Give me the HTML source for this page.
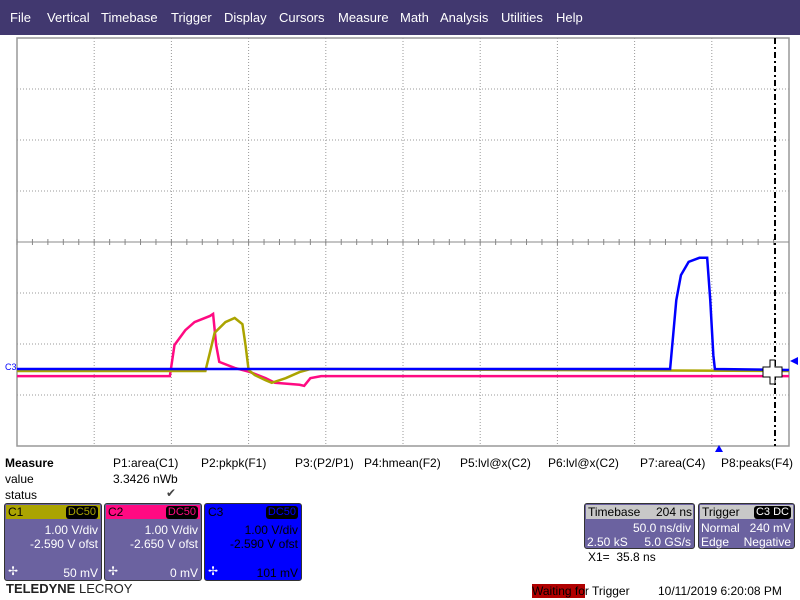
<!DOCTYPE html>
<html><head><meta charset="utf-8"><style>
body{margin:0;width:800px;height:600px;background:#fff;font-family:"Liberation Sans",sans-serif;position:relative;overflow:hidden}
.menu{position:absolute;left:0;top:0;width:800px;height:35px;background:#41386f;color:#fff;font-size:13px}
.menu span{position:absolute;top:10px}
.t{position:absolute;font-size:12px;color:#000;white-space:nowrap}
.box{position:absolute;background:#6b62a0;border:1px solid #333;border-radius:3px;color:#fff;font-size:12px}
.hd{position:absolute;left:1px;right:1px;top:1px;height:14px}
.r{position:absolute;right:3px}
.tag{position:absolute;right:2px;top:1px;background:#000;border-radius:3px;padding:0 2px;font-size:11px;line-height:13px}
</style></head><body>
<div class="menu">
<span style="left:10px">File</span>
<span style="left:47px">Vertical</span>
<span style="left:101px">Timebase</span>
<span style="left:171px">Trigger</span>
<span style="left:224px">Display</span>
<span style="left:279px">Cursors</span>
<span style="left:338px">Measure</span>
<span style="left:400px">Math</span>
<span style="left:440px">Analysis</span>
<span style="left:501px">Utilities</span>
<span style="left:556px">Help</span>
</div>
<svg id="plot" width="800" height="460" style="position:absolute;left:0;top:0"></svg>
<div class="t" style="left:5px;top:456px;font-weight:bold">Measure</div>
<div class="t" style="left:5px;top:472px">value</div>
<div class="t" style="left:5px;top:488px">status</div>
<div class="t" style="left:113px;top:456px">P1:area(C1)</div>
<div class="t" style="left:113px;top:472px">3.3426 nWb</div>
<div class="t" style="left:166px;top:486px;color:#444">✔</div>
<div class="t" style="left:201px;top:456px">P2:pkpk(F1)</div>
<div class="t" style="left:295px;top:456px">P3:(P2/P1)</div>
<div class="t" style="left:364px;top:456px">P4:hmean(F2)</div>
<div class="t" style="left:460px;top:456px">P5:lvl@x(C2)</div>
<div class="t" style="left:548px;top:456px">P6:lvl@x(C2)</div>
<div class="t" style="left:640px;top:456px">P7:area(C4)</div>
<div class="t" style="left:721px;top:456px">P8:peaks(F4)</div>

<div class="box" style="left:4px;top:503px;width:96px;height:76px">
<div class="hd" style="background:#aba400;color:#000"><span style="margin-left:2px">C1</span><span class="tag" style="color:#aba400">DC50</span></div>
<div class="r" style="top:19px">1.00 V/div</div><div class="r" style="top:33px">-2.590 V ofst</div>
<div style="position:absolute;left:3px;top:60px">✢</div><div class="r" style="top:62px">50 mV</div></div>
<div class="box" style="left:104px;top:503px;width:96px;height:76px">
<div class="hd" style="background:#ff0a82;color:#000"><span style="margin-left:2px">C2</span><span class="tag" style="color:#ff0a82">DC50</span></div>
<div class="r" style="top:19px">1.00 V/div</div><div class="r" style="top:33px">-2.650 V ofst</div>
<div style="position:absolute;left:3px;top:60px">✢</div><div class="r" style="top:62px">0 mV</div></div>
<div class="box" style="left:204px;top:503px;width:96px;height:76px;background:#0000ff;color:#000">
<div class="hd"><span style="margin-left:2px">C3</span><span class="tag" style="color:#0000ff">DC50</span></div>
<div class="r" style="top:19px">1.00 V/div</div><div class="r" style="top:33px">-2.590 V ofst</div>
<div style="position:absolute;left:3px;top:60px;color:#fff">✢</div><div class="r" style="top:62px">101 mV</div></div>
<div class="t" style="left:6px;top:581px;font-weight:bold;font-size:13px;color:#222">TELEDYNE <span style="font-weight:normal">LECROY</span></div>

<div class="box" style="left:584px;top:503px;width:109px;height:44px">
<div class="hd" style="background:#c8c8c8;color:#000"><span style="margin-left:2px">Timebase</span><span class="r" style="right:1px">204 ns</span></div>
<div class="r" style="top:17px">50.0 ns/div</div><div style="position:absolute;left:2px;top:31px">2.50 kS</div><div class="r" style="top:31px">5.0 GS/s</div></div>
<div class="box" style="left:698px;top:503px;width:95px;height:44px">
<div class="hd" style="background:#c8c8c8;color:#000"><span style="margin-left:2px">Trigger</span><span class="tag" style="color:#fff">C3 DC</span></div>
<div style="position:absolute;left:2px;top:17px">Normal</div><div class="r" style="top:17px">240 mV</div>
<div style="position:absolute;left:2px;top:31px">Edge</div><div class="r" style="top:31px">Negative</div></div>
<div class="t" style="left:588px;top:550px">X1=&nbsp; 35.8 ns</div>
<div class="t" style="left:532px;top:584px"><span style="background:#b00000">Waiting fo</span>r Trigger</div>
<div class="t" style="left:658px;top:584px">10/11/2019 6:20:08 PM</div>
<script>
// time in ns (0..500), value in screen divisions from center
const c2Time=[0,99,102,109,115,125,127,129,131,141,151,161,167,183,186,190,197,500];
const c2Volts=[-2.63,-2.63,-2.02,-1.73,-1.57,-1.45,-1.41,-2.02,-2.35,-2.47,-2.55,-2.67,-2.76,-2.80,-2.82,-2.67,-2.63,-2.63];
const c1Time=[0,122,125,128,135,141,146,148,150,154,161,165,174,183,190,500];
const c1Volts=[-2.53,-2.53,-2.16,-1.78,-1.57,-1.49,-1.61,-2.02,-2.51,-2.61,-2.71,-2.76,-2.67,-2.55,-2.49,-2.53];
const c3Time=[0,423,425,427,430,435,442,447,449,451,452,500];
const c3Volts=[-2.49,-2.49,-1.82,-1.14,-0.65,-0.39,-0.31,-0.31,-1.14,-2.22,-2.49,-2.51];
const L=17,T=38,W=772,H=408;
const xs=t=>L+t/500*W, ys=v=>T+H/2-v*(H/8);
const svg=document.getElementById('plot');const NS='http://www.w3.org/2000/svg';
function add(tag,attrs,name){const e=document.createElementNS(NS,tag);for(const k in attrs)e.setAttribute(k,attrs[k]);


svg.appendChild(e);return e;}
add('rect',{x:L,y:T,width:W,height:H,fill:'#fff',stroke:'#999','stroke-width':1.5},'plot-frame');
for(let i=1;i<10;i++){const x=L+i*W/10;add('line',{x1:x,x2:x,y1:T,y2:T+H,stroke:'#999','stroke-dasharray':'1,2'},'grid-vertical');}
for(let i=1;i<8;i++){const y=T+i*H/8;add('line',{x1:L,x2:L+W,y1:y,y2:y,stroke:i==4?'#888':'#999','stroke-dasharray':i==4?'none':'1,2'},'grid-horizontal');}
for(let i=0;i<50;i++){const x=L+i*W/50;add('line',{x1:x,x2:x,y1:T+H/2-3,y2:T+H/2+3,stroke:'#888'},'center-tick');}
function trace(ts,vs,col,name){add('polyline',{points:ts.map((t,i)=>xs(t)+','+ys(vs[i])).join(' '),fill:'none',stroke:col,'stroke-width':2.5},name);}
trace(c2Time,c2Volts,'#ff0a82','trace-c2');
trace(c1Time,c1Volts,'#aba400','trace-c1');
trace(c3Time,c3Volts,'#0000ff','trace-c3');
add('line',{x1:775,x2:775,y1:T,y2:T+H,stroke:'#000','stroke-width':2,'stroke-dasharray':'6,3,2,3'},'trigger-cursor');
add('path',{d:'M770,360h5v7h7v10h-7v7h-5v-7h-7v-10h7z',fill:'#fff',stroke:'#000'},'cursor-handle');
add('path',{d:'M790,361l8,-4v8z',fill:'#0000ff'},'trigger-level-marker');
add('path',{d:'M719,445l-4,7h8z',fill:'#0000ff'},'trigger-position-marker');
const lb=add('text',{x:5,y:370,'font-size':9,fill:'#0000ff','font-family':'Liberation Sans'},'c3-label');lb.textContent='C3';
</script>
</body></html>
